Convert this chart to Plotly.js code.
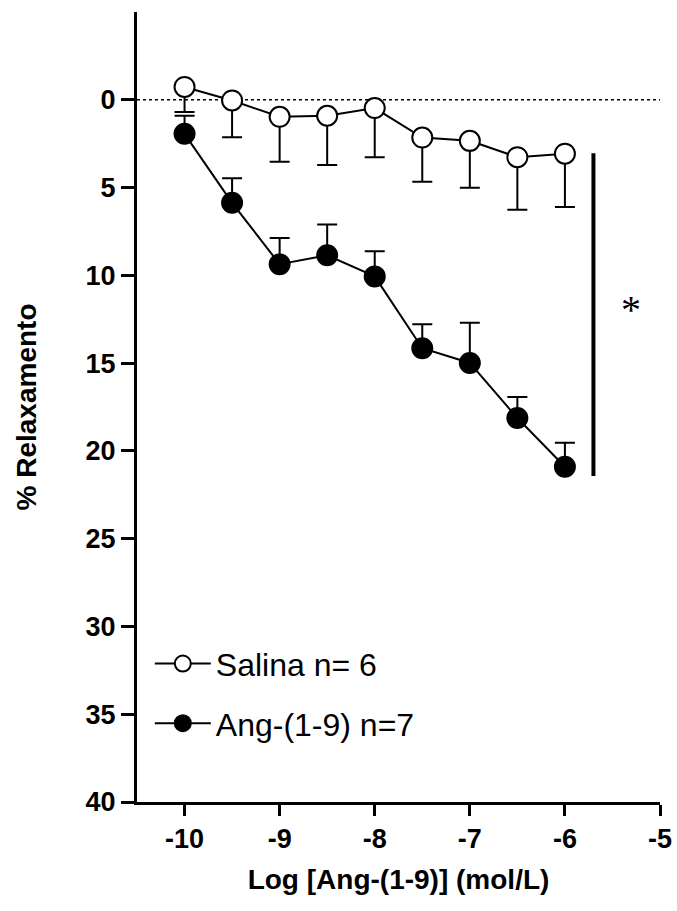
<!DOCTYPE html>
<html>
<head>
<meta charset="utf-8">
<script src="https://cdn.plot.ly/plotly-3.0.1.min.js"></script>
<style>html,body{margin:0;padding:0;background:#fff;}#chart{width:677px;height:911px;}</style>
</head>
<body>
<div id="chart"></div>
<script>
// Data
const logConc = [-10, -9.5, -9, -8.5, -8, -7.5, -7, -6.5, -6];
const salinaMean = [-0.73, 0.04, 0.97, 0.91, 0.47, 2.15, 2.34, 3.27, 3.07];
const salinaSEM  = [1.43, 2.09, 2.56, 2.80, 2.80, 2.52, 2.67, 3.00, 3.04];
const angMean    = [1.94, 5.87, 9.37, 8.86, 10.06, 14.15, 14.99, 18.13, 20.90];
const angSEM     = [1.03, 1.40, 1.50, 1.76, 1.43, 1.37, 2.29, 1.20, 1.36];
const zerosArr   = [0, 0, 0, 0, 0, 0, 0, 0, 0];
const seriesNames = ['Salina n= 6', 'Ang-(1-9) n=7'];
const yTicks = [0, 5, 10, 15, 20, 25, 30, 35, 40];
const xTicks = [-10, -9, -8, -7, -6, -5];
const sigBar = {x: -5.70, y0: 3.05, y1: 21.43};
const sigMark = {x: -5.31, y: 11.95, text: '*'};

const FONT = 'Liberation Sans, Arial, sans-serif';

const salina = {
  x: logConc, y: salinaMean, name: seriesNames[0], type: 'scatter', mode: 'lines+markers',
  legendgroup: 'a',
  line: {color: '#000', width: 2},
  marker: {symbol: 'circle', size: 20, color: '#fff', line: {color: '#000', width: 2}},
  error_y: {type: 'data', symmetric: false, array: salinaSEM, arrayminus: zerosArr,
            color: '#000', thickness: 2, width: 10}
};
const ang = {
  x: logConc, y: angMean, name: seriesNames[1], type: 'scatter', mode: 'lines+markers',
  legendgroup: 'b',
  line: {color: '#000', width: 2},
  marker: {symbol: 'circle', size: 20, color: '#000', line: {color: '#000', width: 2}},
  error_y: {type: 'data', symmetric: false, array: zerosArr, arrayminus: angSEM,
            color: '#000', thickness: 2, width: 10}
};

const layout = {
  width: 677, height: 911,
  margin: {l: 137, r: 17, t: 12, b: 109},
  paper_bgcolor: '#fff', plot_bgcolor: '#fff',
  showlegend: true,
  legend: {x: 0.0245, y: 0.2098, xanchor: 'left', yanchor: 'top',
           font: {family: FONT, size: 32, color: '#000'},
           itemwidth: 56,
           tracegroupgap: 15, traceorder: 'grouped', bgcolor: 'rgba(0,0,0,0)'},
  xaxis: {
    range: [-10.5, -5], tickvals: xTicks, ticktext: xTicks.map(String),
    ticks: 'outside', ticklen: 11, tickwidth: 3, tickcolor: '#000',
    showline: true, linewidth: 3, linecolor: '#000', showgrid: false, zeroline: false,
    tickfont: {family: FONT, size: 27, color: '#000', weight: 'bold'},
    title: {text: 'Log [Ang-(1-9)] (mol/L)', font: {family: FONT, size: 28, color: '#000', weight: 'bold'}, standoff: 16},
    automargin: false
  },
  yaxis: {
    range: [40, -5], tickvals: yTicks, ticktext: yTicks.map(String),
    ticks: 'outside', ticklen: 13, tickwidth: 3, tickcolor: '#000',
    showline: true, linewidth: 3, linecolor: '#000', showgrid: false, zeroline: false,
    tickfont: {family: FONT, size: 27, color: '#000', weight: 'bold'},
    title: {text: '% Relaxamento', font: {family: FONT, size: 28, color: '#000', weight: 'bold'}, standoff: 41},
    automargin: false
  },
  shapes: [
    {type: 'line', xref: 'paper', x0: 0, x1: 1, yref: 'y', y0: 0, y1: 0,
     line: {color: '#000', width: 1.5, dash: 'dot'}, layer: 'below'},
    {type: 'line', xref: 'x', x0: sigBar.x, x1: sigBar.x, yref: 'y', y0: sigBar.y0, y1: sigBar.y1,
     line: {color: '#000', width: 4}}
  ],
  annotations: [
    {x: sigMark.x, y: sigMark.y, xref: 'x', yref: 'y', text: sigMark.text, showarrow: false,
     font: {family: 'Liberation Serif, Times New Roman, serif', size: 40, color: '#000'}}
  ]
};

Plotly.newPlot('chart', [salina, ang], layout, {displayModeBar: false, staticPlot: true});
</script>
</body>
</html>
